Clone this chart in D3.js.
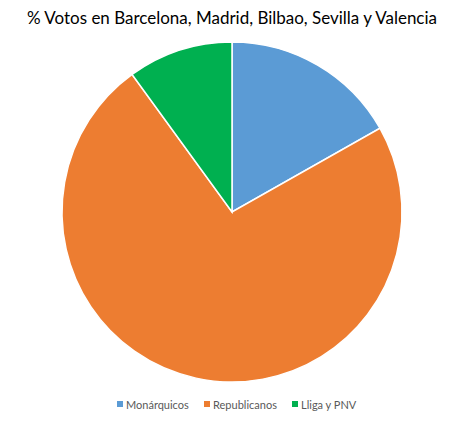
<!DOCTYPE html>
<html><head><meta charset="utf-8">
<script src="https://cdn.jsdelivr.net/npm/d3@7"></script>
<style>body{margin:0;background:#fff}</style>
</head><body>
<svg id="c" width="470" height="427"></svg>
<script>
const categories = ["Monárquicos", "Republicanos", "Lliga y PNV"];
const values = [16.8, 73.2, 10.0];
const colors = ["#5B9BD5", "#ED7D31", "#00B050"];
const title = "% Votos en Barcelona, Madrid, Bilbao, Sevilla y Valencia";

const svg = d3.select("#c");
svg.append("rect").attr("width",470).attr("height",427).attr("fill","#fff");
svg.append("text").attr("x",232).attr("y",24).attr("text-anchor","middle")
  .attr("font-family","Lato, 'Open Sans', sans-serif").attr("font-size",17).attr("fill","#000")
  .attr("textLength",410).attr("lengthAdjust","spacingAndGlyphs")
  .text(title);

const cx=232, cy=212, r=170;
const pie = d3.pie().sort(null).value(d=>d);
const arc = d3.arc().innerRadius(0).outerRadius(r);
const g = svg.append("g").attr("transform",`translate(${cx},${cy})`);
g.selectAll("path").data(pie(values)).join("path")
  .attr("d",arc).attr("fill",(d,i)=>colors[i]).attr("stroke","#fff").attr("stroke-width",1.5);

const legX = [117, 204, 292];
const leg = svg.append("g");
categories.forEach((c,i)=>{
  leg.append("rect").attr("x",legX[i]).attr("y",401).attr("width",6).attr("height",6).attr("fill",colors[i]);
  leg.append("text").attr("x",legX[i]+9).attr("y",408.5)
    .attr("font-family","Lato, 'Open Sans', sans-serif").attr("font-size",11).attr("fill","#595959").text(c);
});
</script>
</body></html>
